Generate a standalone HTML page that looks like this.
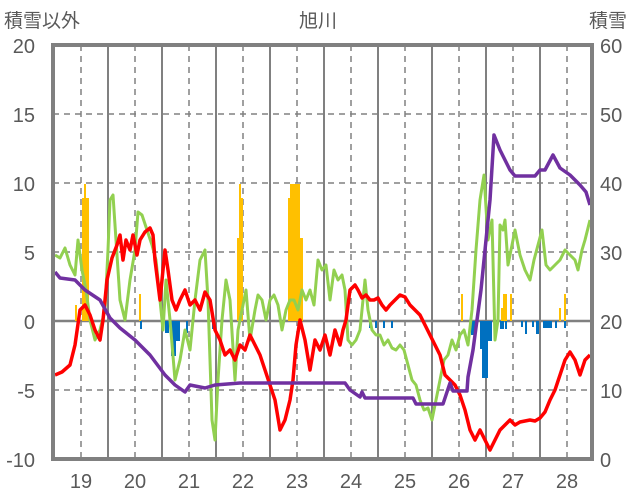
<!DOCTYPE html><html><head><meta charset="utf-8"><style>body{margin:0;background:#fff}svg{display:block}text{font-family:"Liberation Sans","Noto Sans CJK JP",sans-serif;fill:#595959}</style></head><body>
<svg width="636" height="501" viewBox="0 0 636 501">
<g stroke="#808080" stroke-width="1.5" stroke-dasharray="6,5" fill="none">
<line x1="53" y1="114" x2="592" y2="114"/><line x1="53" y1="183" x2="592" y2="183"/><line x1="53" y1="252" x2="592" y2="252"/><line x1="53" y1="390" x2="592" y2="390"/>
<line x1="81" y1="45" x2="81" y2="459"/><line x1="135" y1="45" x2="135" y2="459"/><line x1="189" y1="45" x2="189" y2="459"/><line x1="243" y1="45" x2="243" y2="459"/><line x1="297" y1="45" x2="297" y2="459"/><line x1="351" y1="45" x2="351" y2="459"/><line x1="405" y1="45" x2="405" y2="459"/><line x1="459" y1="45" x2="459" y2="459"/><line x1="513" y1="45" x2="513" y2="459"/><line x1="567" y1="45" x2="567" y2="459"/>
</g>
<g stroke="#808080" stroke-width="2" fill="none">
<line x1="108" y1="45" x2="108" y2="459"/><line x1="162" y1="45" x2="162" y2="459"/><line x1="216" y1="45" x2="216" y2="459"/><line x1="270" y1="45" x2="270" y2="459"/><line x1="324" y1="45" x2="324" y2="459"/><line x1="378" y1="45" x2="378" y2="459"/><line x1="432" y1="45" x2="432" y2="459"/><line x1="486" y1="45" x2="486" y2="459"/><line x1="540" y1="45" x2="540" y2="459"/>
<line x1="53" y1="321" x2="592" y2="321" stroke-width="2.5"/>
</g>
<g fill="#ffc000">
<rect x="82" y="198" width="7" height="123"/><rect x="84" y="184" width="2" height="14"/><rect x="75" y="305" width="2" height="16"/><rect x="139" y="294" width="2" height="27"/>
<rect x="237" y="238" width="3" height="83"/><rect x="239" y="184" width="2" height="137"/><rect x="241" y="198" width="2" height="123"/>
<rect x="288" y="198" width="4" height="123"/><rect x="290" y="184" width="10" height="137"/><rect x="299" y="238" width="4" height="83"/>
<rect x="461" y="294" width="2" height="27"/><rect x="501" y="308" width="4" height="13"/><rect x="503" y="294" width="4" height="27"/><rect x="510" y="294" width="2" height="27"/><rect x="559" y="308" width="2" height="13"/><rect x="564" y="294" width="2" height="27"/>
</g>
<g fill="#0070c0">
<rect x="140" y="321" width="2" height="8"/><rect x="165" y="321" width="4" height="12"/><rect x="171" y="321" width="5" height="35"/><rect x="176" y="321" width="4" height="20"/><rect x="186" y="321" width="2" height="12"/>
<rect x="212" y="321" width="3" height="8"/><rect x="369" y="321" width="2" height="7"/><rect x="375" y="321" width="2" height="7"/><rect x="383" y="321" width="2" height="7"/><rect x="391" y="321" width="2" height="7"/>
<rect x="471" y="321" width="4" height="14"/><rect x="480" y="321" width="8" height="28"/><rect x="482" y="321" width="6" height="57"/><rect x="488" y="321" width="4" height="20"/><rect x="494" y="321" width="2" height="8"/><rect x="500" y="321" width="4" height="8"/><rect x="505" y="321" width="2" height="8"/>
<rect x="521" y="321" width="2" height="6"/><rect x="525" y="321" width="2" height="13"/><rect x="532" y="321" width="2" height="6"/><rect x="536" y="321" width="3" height="13"/><rect x="543" y="321" width="9" height="7"/><rect x="555" y="321" width="2" height="7"/><rect x="564" y="321" width="2" height="7"/>
</g>
<polyline fill="none" stroke="#92d050" stroke-width="3" stroke-linejoin="round" points="55,255 60,258 65,248 70,265 75,275 78,240 82,270 86,290 90,320 95,340 100,330 105,310 108,250 110,200 113,195 116,240 120,300 125,320 130,280 135,250 138,212 142,215 147,230 152,245 156,260 160,300 163,330 166,280 170,320 175,380 180,360 185,330 190,350 195,300 200,260 205,250 208,300 212,420 215,440 218,380 222,320 226,280 230,300 235,380 238,330 242,310 246,290 250,340 255,310 258,295 262,300 266,320 270,300 274,295 278,305 282,330 286,310 290,300 294,300 298,310 302,290 306,300 310,290 314,305 318,260 322,270 326,265 330,300 334,270 338,280 342,275 345,290 348,340 352,345 356,340 360,330 363,300 365,280 368,310 372,330 376,335 380,335 384,345 388,340 392,348 396,350 400,345 404,350 408,365 412,380 416,385 420,400 424,410 428,408 432,420 436,400 440,380 444,360 448,355 452,340 456,350 460,335 464,330 468,345 472,310 476,250 480,200 484,175 488,240 492,220 495,340 498,320 500,225 503,230 505,220 508,265 512,245 515,230 520,255 525,270 530,280 534,260 538,245 542,230 546,265 550,270 555,265 560,260 565,250 570,255 575,260 578,270 582,250 585,240 590,220"/>
<polyline fill="none" stroke="#ff0000" stroke-width="3.5" stroke-linejoin="round" points="55,375 62,372 70,365 75,345 80,310 85,305 90,315 95,330 100,340 103,320 107,280 112,258 117,245 120,235 123,260 126,240 130,250 133,235 137,255 140,240 145,232 150,228 153,235 155,260 160,300 165,250 168,270 172,300 176,310 180,300 185,290 190,305 195,300 200,310 205,292 210,300 215,330 220,340 225,355 230,350 235,360 240,345 245,350 250,335 255,345 260,355 265,370 270,385 275,400 280,430 285,420 290,400 293,380 296,345 300,320 305,340 310,370 315,340 320,350 325,335 330,355 335,330 340,345 343,330 346,320 350,290 355,285 358,290 362,298 366,295 370,300 374,300 378,298 382,305 386,310 390,305 395,300 400,295 405,297 410,305 415,310 420,315 425,325 430,335 435,345 440,355 445,375 450,380 455,385 460,395 465,410 470,430 475,440 480,430 485,440 490,450 495,440 500,430 505,425 510,420 515,425 520,422 525,421 530,420 535,421 540,418 545,412 550,400 555,390 560,375 565,360 570,352 575,360 580,375 585,360 590,355"/>
<polyline fill="none" stroke="#7030a0" stroke-width="3.5" stroke-linejoin="round" points="55,272 60,278 75,280 85,290 100,300 110,318 120,328 135,340 150,355 165,375 175,385 185,392 190,385 205,388 215,385 240,383 300,383 345,383 350,390 360,397 362,392 365,398 413,398 416,404 443,404 450,383 453,391 467,391 468,377 473,350 477,320 481,290 485,250 490,200 494,135 500,150 510,170 515,176 535,176 540,170 545,170 553,155 560,168 570,175 580,185 586,192 590,205"/>
<rect x="53" y="45" width="539" height="414" fill="none" stroke="#808080" stroke-width="4"/>
<g font-size="20">
<text x="35" y="53" text-anchor="end">20</text><text x="35" y="122" text-anchor="end">15</text><text x="35" y="191" text-anchor="end">10</text><text x="35" y="260" text-anchor="end">5</text><text x="35" y="329" text-anchor="end">0</text><text x="35" y="398" text-anchor="end">-5</text><text x="35" y="467" text-anchor="end">-10</text>
<text x="600" y="53">60</text><text x="600" y="122">50</text><text x="600" y="191">40</text><text x="600" y="260">30</text><text x="600" y="329">20</text><text x="600" y="398">10</text><text x="600" y="467">0</text>
<g text-anchor="middle"><text x="81" y="488">19</text><text x="135" y="488">20</text><text x="189" y="488">21</text><text x="243" y="488">22</text><text x="297" y="488">23</text><text x="351" y="488">24</text><text x="405" y="488">25</text><text x="459" y="488">26</text><text x="513" y="488">27</text><text x="567" y="488">28</text></g>
</g>
<g font-size="19"><text x="4" y="27">積雪以外</text><text x="318" y="27" text-anchor="middle">旭川</text><text x="589" y="27">積雪</text></g>
</svg></body></html>
